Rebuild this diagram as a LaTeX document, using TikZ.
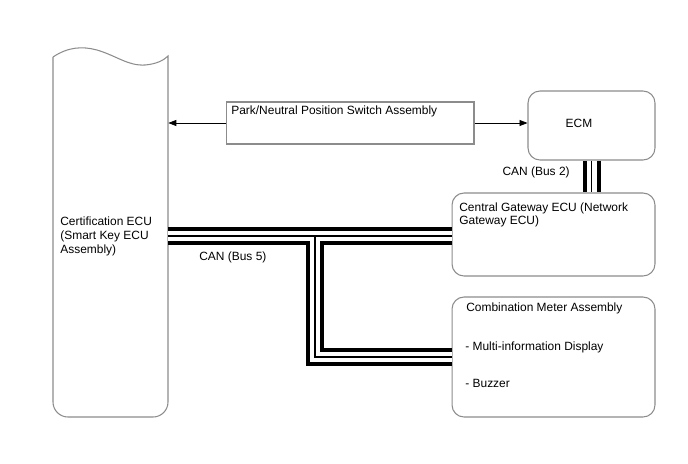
\documentclass[tikz,border=0pt]{standalone}
\usepackage{fontspec}
\setmainfont{Liberation Sans}
\usetikzlibrary{arrows.meta}

\begin{document}
\begin{tikzpicture}[x=0.02cm,y=-0.02cm,
  box/.style={draw=black!45,line width=0.6pt,rounded corners=0.24cm,inner sep=0pt},
  lbl/.style={font=\fontsize{6.8}{7.6}\selectfont,inner sep=0pt,align=left},
  sig/.style={-{Triangle[length=4.5pt,width=3.4pt]},line width=0.4pt}]
\useasboundingbox (0,0) rectangle (688,463);
% certification ECU, torn top edge
\node[minimum width=2.3cm,minimum height=7.36cm,inner sep=0pt] (cert) at (110.5,233) {};
\draw[black!45,line width=0.6pt] (53,57) .. controls (68,47) and (82,46) .. (97,50)
  .. controls (117,56) and (128,66) .. (145,65) .. controls (157,64) and (164,60) .. (168,56)
  [rounded corners=0.3cm] -- (168,417) -- (53,417) -- (53,57);
\node[lbl,anchor=north west,font=\fontsize{6.8}{8}\selectfont] (certtxt) at (60,216) {Certification ECU\\(Smart Key ECU\\Assembly)};

\node[box,sharp corners,minimum width=4.96cm,minimum height=0.84cm] (park) at (350,123) {};
\node[lbl,anchor=west] (parktxt) at (231,111) {Park/Neutral Position Switch Assembly};

\node[box,minimum width=2.54cm,minimum height=1.38cm] (ecm) at (591.5,125.5) {};
\node[lbl] (ecmtxt) at (579,123) {ECM};

\node[box,minimum width=4.06cm,minimum height=1.66cm] (gw) at (553.5,234.5) {};
\node[lbl,anchor=north west] (gwtxt) at (459,202) {Central Gateway ECU (Network\\Gateway ECU)};

\node[box,minimum width=4.06cm,minimum height=2.4cm] (cm) at (553.5,357) {};
\node[lbl,anchor=west] (cmtxt) at (466,308) {Combination Meter Assembly};
\node[lbl,anchor=west] (midtxt) at (465,347) {- Multi-information Display};
\node[lbl,anchor=west] (buztxt) at (465,383) {- Buzzer};

\draw[sig] (park.west) -- (park.west -| cert.east);
\draw[sig] (park.east) -- (park.east -| ecm.west);

% CAN lines: black, white, thin black
\coordinate (split) at (315,236);
\foreach \w/\c in {0.36cm/black,0.2cm/white,0.6pt/black}{
  \draw[line width=\w,\c] (cert.east |- split) -- (gw.west |- split);
  \draw[line width=\w,\c] (split) |- (cm.west);
  \draw[line width=\w,\c] (ecm.south) -- (gw.north -| ecm.south);
}
\node[lbl,anchor=east] (bus2) at (570,172) {CAN (Bus 2)};
\node[lbl,anchor=west] (bus5) at (199,257) {CAN (Bus 5)};
\end{tikzpicture}
\end{document}
